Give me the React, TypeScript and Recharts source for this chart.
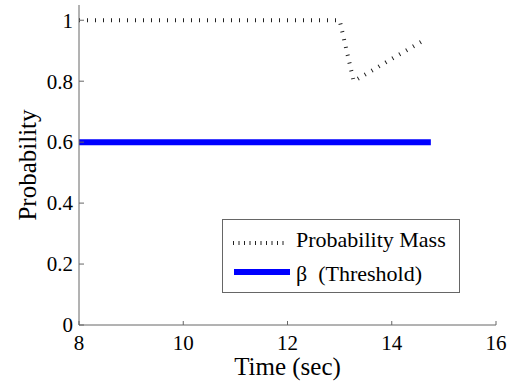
import { Line, LineChart, XAxis, YAxis } from "recharts";

const massTime = [8, 13.0, 13.27, 14.67];
const massValues = [1, 1, 0.8, 0.94];

const thresholdTime = [8, 14.75];
const thresholdValues = [0.6, 0.6];

const xTicks = [8, 10, 12, 14, 16];
const yTicks = [0, 0.2, 0.4, 0.6, 0.8, 1];

const font = "'Liberation Serif', serif";
const axisColor = "#666";

const massData = massTime.map((t, i) => ({ t, mass: massValues[i] }));
const thresholdData = thresholdTime.map((t, i) => ({ t, beta: thresholdValues[i] }));

const textStyle = { fontFamily: font, fill: "#000" };

function renderXTick(props: any) {
  const { x, y, payload } = props;
  return (
    <g key={`x-${payload.value}`}>
      <line x1={x} x2={x} y1={y} y2={y - 4} stroke={axisColor} />
      <text x={x} y={y + 25} textAnchor="middle" style={{ ...textStyle, fontSize: 21 }}>
        {payload.value}
      </text>
    </g>
  );
}

function renderYTick(props: any) {
  const { x, y, payload } = props;
  return (
    <g key={`y-${payload.value}`}>
      <line x1={x} x2={x + 5} y1={y} y2={y} stroke={axisColor} />
      <text x={x - 6} y={y} dy="0.35em" textAnchor="end" style={{ ...textStyle, fontSize: 21 }}>
        {payload.value}
      </text>
    </g>
  );
}

function ChartLegend() {
  return (
    <div
      style={{
        position: "absolute",
        left: 222,
        top: 219,
        width: 238,
        height: 74,
        border: "1px solid #666",
        background: "#fff",
        boxSizing: "border-box",
      }}
    >
      <svg width={236} height={72} style={{ display: "block" }}>
        <line x1={10} x2={64} y1={23} y2={23} stroke="#222" strokeWidth={4} strokeDasharray="1 4.5" />
        <text x={73} y={27} style={{ ...textStyle, fontSize: 22 }}>
          Probability Mass
        </text>
        <line x1={11} x2={67} y1={52} y2={52} stroke="#0000ff" strokeWidth={6} />
        <text x={73} y={61} style={{ ...textStyle, fontSize: 22, whiteSpace: "pre" }}>
          {"β  (Threshold)"}
        </text>
      </svg>
    </div>
  );
}

export default function App() {
  return (
    <div
      style={{
        position: "fixed",
        left: 0,
        top: 0,
        width: 510,
        height: 383,
        background: "#fff",
        fontFamily: font,
      }}
    >
      <LineChart width={510} height={383} margin={{ top: 5, right: 14, bottom: 0, left: 0 }}>
        <XAxis
          type="number"
          dataKey="t"
          domain={[8, 16]}
          ticks={xTicks}
          allowDataOverflow
          height={58}
          stroke={axisColor}
          tickLine={false}
          tickSize={0}
          tickMargin={0}
          tick={renderXTick}
          label={{
            value: "Time (sec)",
            content: ({ viewBox }: any) => (
              <text
                x={viewBox.x + viewBox.width / 2}
                y={375}
                textAnchor="middle"
                style={{ ...textStyle, fontSize: 25 }}
              >
                Time (sec)
              </text>
            ),
          }}
        />
        <YAxis
          type="number"
          domain={[0, 1.05]}
          ticks={yTicks}
          allowDataOverflow
          width={79}
          stroke={axisColor}
          tickLine={false}
          tickSize={0}
          tickMargin={0}
          tick={renderYTick}
          label={{
            value: "Probability",
            content: ({ viewBox }: any) => {
              const cy = viewBox.y + viewBox.height / 2;
              return (
                <text
                  x={27}
                  y={cy}
                  dy="0.35em"
                  transform={`rotate(-90, 27, ${cy})`}
                  textAnchor="middle"
                  style={{ ...textStyle, fontSize: 25 }}
                >
                  Probability
                </text>
              );
            },
          }}
        />
        <Line
          data={thresholdData}
          dataKey="beta"
          type="linear"
          stroke="#0000ff"
          strokeWidth={6}
          dot={false}
          activeDot={false}
          isAnimationActive={false}
        />
        <Line
          data={massData}
          dataKey="mass"
          type="linear"
          stroke="#222"
          strokeWidth={4}
          strokeDasharray="1 7"
          dot={false}
          activeDot={false}
          isAnimationActive={false}
        />
      </LineChart>
      <ChartLegend />
    </div>
  );
}
